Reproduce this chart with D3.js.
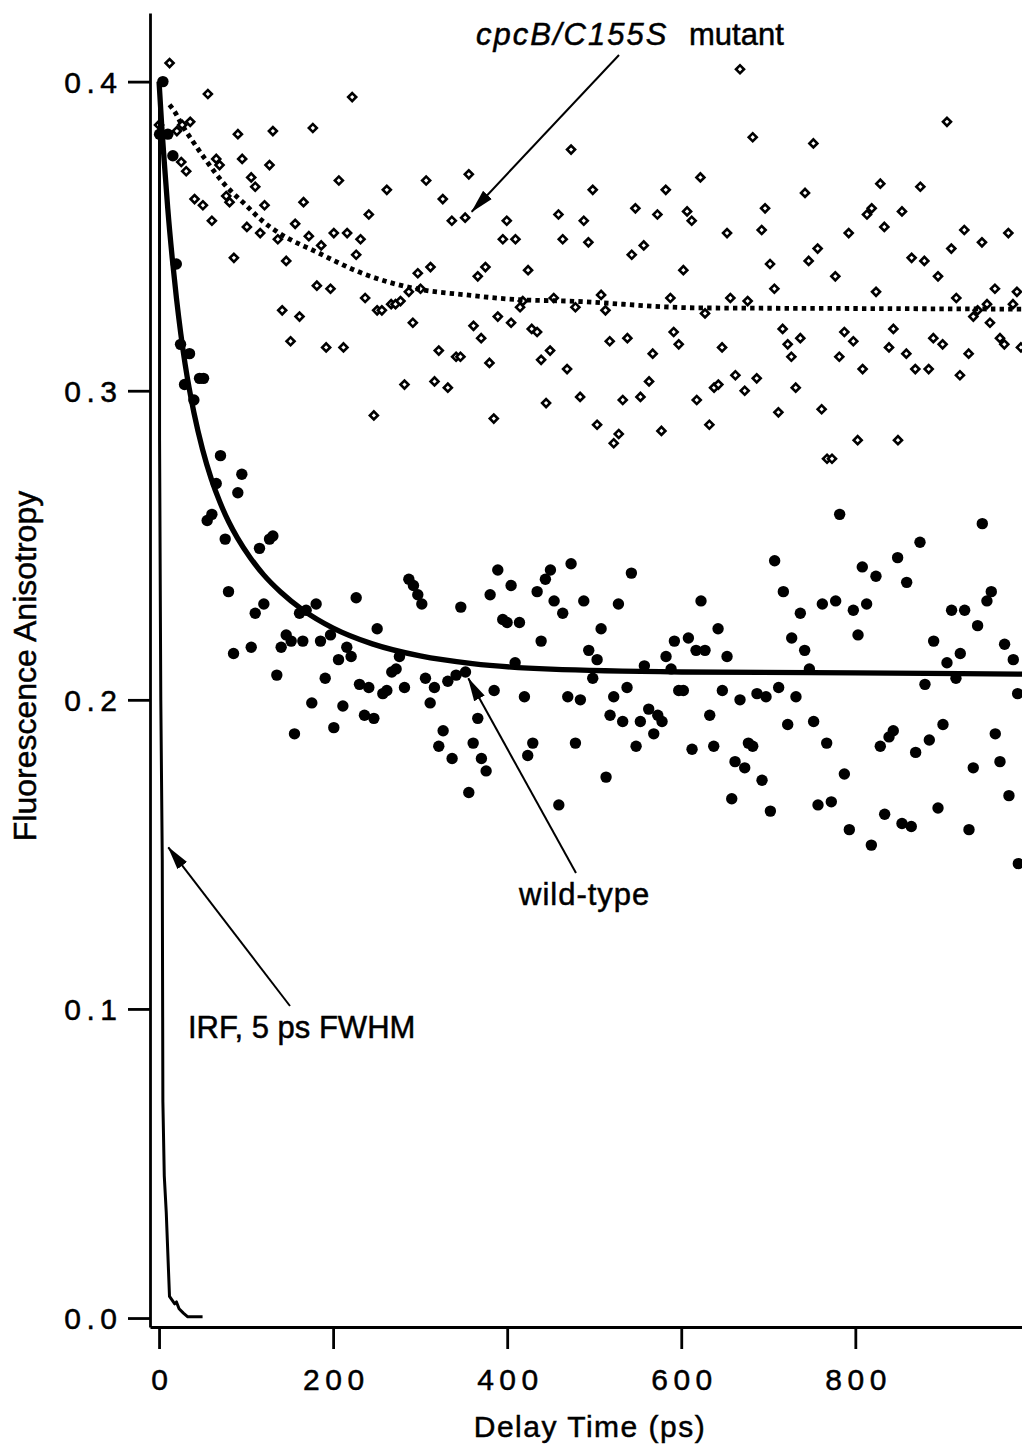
<!DOCTYPE html>
<html>
<head>
<meta charset="utf-8">
<script src="https://cdn.jsdelivr.net/npm/d3@7"></script>
<style>
  body { margin: 0; background: #fff; }
  svg { display: block; }
  text { font-family: "Liberation Sans", Arial, Helvetica, sans-serif; fill: #000; stroke: #000; stroke-width: 0.5px; }
</style>
</head>
<body>
<div id="chart"></div>
<script>
// delay time (ps), anisotropy
const wildTypePoints = [
  [4.4,0.400],[0.6,0.383],[10.1,0.383],[15.9,0.376],[19.8,0.341],[24.7,0.315],[35,0.312],[29.3,0.302],[40,0.297],[46.5,0.304],[51.1,0.304],
  [70.6,0.279],[65.7,0.270],[95.1,0.273],[90.5,0.267],[60.7,0.260],[55.3,0.258],[76,0.252],[115.4,0.249],[126.9,0.252],[130.8,0.253],
  [79.8,0.235],[120.4,0.231],[110.5,0.228],[180.5,0.231],[161.4,0.228],[169,0.229],[226.5,0.233],[287,0.239],[292.3,0.237],[297.3,0.234],
  [301.9,0.231],[346.7,0.230],[389.2,0.242],[404.5,0.237],[380.4,0.234],[394.9,0.226],[399.9,0.225],[414.1,0.225],[439,0.219],[434.4,0.235],
  [443.9,0.239],[449.7,0.242],[453.9,0.232],[250.6,0.223],[85.6,0.215],[105.9,0.217],[146.1,0.221],[151.8,0.219],[140.3,0.217],[165.2,0.219],
  [185.5,0.219],[197,0.221],[215.7,0.217],[220.7,0.214],[206.2,0.213],[276.2,0.214],[135.3,0.208],[190.9,0.207],[230.3,0.205],[241,0.204],
  [257.1,0.202],[261.7,0.203],[267.4,0.209],[272.4,0.210],[282,0.204],[306.1,0.207],[316.4,0.204],[331.8,0.206],[341.3,0.208],[352.1,0.209],
  [311.5,0.199],[409.1,0.212],[385,0.203],[419.8,0.201],[175.5,0.199],[211.2,0.198],[236,0.195],[246.8,0.194],[200.8,0.191],[155.6,0.189],
  [326.4,0.190],[321.4,0.185],[336.7,0.181],[366.2,0.194],[360.9,0.186],[370.4,0.181],[375.8,0.177],[355.9,0.170],[429.4,0.186],[423.6,0.182],
  [459.3,0.166],
  [463.8,0.228],[473.4,0.244],[469.6,0.201],[484.1,0.200],[478.4,0.186],[488,0.232],[493.7,0.216],[503.3,0.213],[507.9,0.223],[498.3,0.207],
  [527.8,0.231],[542.7,0.241],[513.6,0.175],[518.2,0.195],[522.4,0.201],[532.7,0.193],[537.7,0.204],[548.1,0.185],[553,0.193],[557.6,0.211],
  [562.6,0.197],[568.4,0.189],[573,0.195],[577.9,0.193],[582.5,0.214],[588.3,0.210],[592.1,0.219],[597.1,0.203],[602.4,0.203],[608.2,0.220],
  [617,0.216],[627.3,0.216],[622.7,0.232],[612.4,0.184],[632.7,0.195],[637.3,0.185],[642.3,0.223],[647.2,0.203],[652.6,0.214],[667.5,0.200],
  [658,0.168],[661.8,0.180],[672.9,0.178],[677.1,0.186],[682.1,0.185],[692.8,0.174],[702.4,0.164],[687,0.202],[697.4,0.201],[707.3,0.245],
  [711.9,0.204],[717.3,0.235],[722.3,0.192],[726.9,0.220],[731.8,0.201],[736.8,0.228],[741.8,0.216],[747.2,0.210],[752.1,0.193],[757.1,0.166],
  [762.1,0.231],[767.1,0.186],[772.4,0.167],[777.4,0.232],[782,0.260],[787.4,0.176],[793.1,0.158],[797.7,0.229],[803.1,0.221],[808,0.243],
  [813,0.231],[823.7,0.240],[818.4,0.153],[828.7,0.185],[833.7,0.163],[838.7,0.188],[843.6,0.190],[848.6,0.246],[853.6,0.160],[859,0.238],
  [864.3,0.159],[869.3,0.183],[874.3,0.251],[880,0.205],[885,0.187],[890,0.219],[895,0.165],[900.7,0.192],[905.3,0.212],[910.6,0.229],
  [915.6,0.207],[920.6,0.215],[925.6,0.229],[930.6,0.158],[935.5,0.178],[940.5,0.224],[945.9,0.257],[951.2,0.232],[956.2,0.235],[960.8,0.189],
  [966.2,0.180],[971.5,0.218],[976.5,0.169],[981.5,0.213],[986.5,0.202],[987.3,0.147]
];

const mutantPoints = [
  [12.1,0.406],[56.1,0.396],[221.9,0.395],[0,0.386],[20.5,0.384],[26.6,0.386],[35.8,0.387],[90.6,0.383],[130.8,0.384],[176.7,0.385],
  [25.5,0.374],[31.2,0.371],[65.7,0.375],[69.5,0.373],[95.5,0.375],[126.9,0.373],[105.9,0.369],[110.5,0.366],[40.8,0.362],[50.4,0.360],
  [77.2,0.363],[81,0.361],[121.2,0.360],[60.7,0.355],[166,0.361],[206.6,0.368],[261.7,0.365],[306.9,0.368],[355.9,0.370],[326,0.362],
  [241,0.357],[336.4,0.355],[351.7,0.356],[86,0.343],[100.9,0.353],[116.2,0.351],[136.5,0.349],[146.1,0.342],[156.4,0.354],[172.1,0.350],
  [186.3,0.347],[200.8,0.351],[216.1,0.351],[231.5,0.349],[226.5,0.344],[311.9,0.340],[297.3,0.338],[375,0.340],[366.2,0.337],[181.3,0.334],
  [197,0.333],[236.8,0.330],[250.6,0.326],[256,0.326],[266.7,0.328],[271.7,0.328],[277.4,0.329],[287,0.332],[300.4,0.333],[291.6,0.322],
  [389.2,0.324],[361.3,0.321],[370.1,0.317],[141.5,0.326],[161.4,0.324],[151.1,0.316],[192,0.314],[211.9,0.314],[321.4,0.313],[341.3,0.311],
  [346.3,0.311],[379.6,0.309],[282,0.302],[316.5,0.303],[331.8,0.301],[246.8,0.292],[384.6,0.291],
  [667.5,0.404],[682.1,0.382],[751.8,0.380],[905.3,0.387],[473.4,0.378],[622,0.369],[498.3,0.365],[582.2,0.365],[828.7,0.367],[874.7,0.366],
  [742.2,0.364],[399.5,0.355],[395,0.349],[409.5,0.349],[458.9,0.357],[488,0.355],[463.8,0.349],[493.3,0.348],[547.3,0.359],[572.6,0.357],
  [606.7,0.358],[612,0.355],[696.3,0.359],[692.4,0.352],[652.6,0.351],[818.8,0.359],[813.4,0.357],[853.6,0.358],[833.3,0.353],[792.4,0.351],
  [925.2,0.352],[975.8,0.351],[945.5,0.348],[910.3,0.346],[543.1,0.344],[556.9,0.347],[424,0.339],[602.4,0.339],[756.7,0.346],[746.4,0.342],
  [702,0.341],[777,0.337],[864.7,0.343],[879.3,0.342],[895,0.337],[707,0.333],[823.8,0.332],[960.4,0.333],[985.7,0.332],[916,0.330],
  [981.1,0.328],[951.3,0.328],[935.6,0.324],[940.5,0.326],[954.7,0.322],[966.2,0.317],[971.2,0.315],[990.3,0.314],[404.5,0.322],[414.8,0.327],
  [417.9,0.329],[453.5,0.330],[478.4,0.327],[507.9,0.331],[512.9,0.326],[587.5,0.330],[627.3,0.325],[656.4,0.330],[676.3,0.329],[428.2,0.320],
  [434.4,0.319],[449.3,0.313],[439,0.310],[468.8,0.307],[517.8,0.316],[538.1,0.317],[591.3,0.319],[597.1,0.315],[567.2,0.312],[646.9,0.314],
  [716.5,0.320],[722.3,0.315],[736.8,0.317],[726.5,0.311],[787.4,0.319],[797.7,0.316],[781.6,0.311],[808.4,0.307],[843.7,0.320],[838.7,0.314],
  [858.6,0.312],[889.6,0.317],[900.3,0.315],[868.9,0.307],[884.3,0.307],[930.2,0.312],[920.2,0.305],[444.7,0.296],[483.8,0.298],[503.3,0.289],
  [522.4,0.283],[528.2,0.286],[532.8,0.297],[553.1,0.298],[563,0.303],[577.2,0.287],[617.8,0.297],[632.3,0.289],[637.7,0.301],[642.6,0.302],
  [662.2,0.305],[672.9,0.300],[686.7,0.304],[711.6,0.293],[731.5,0.301],[761.3,0.294],[767.5,0.278],[773.2,0.278],[802.7,0.284],[849,0.284]
];

// fitted curves
const wildTypeFit = [
  [0,0.400],[3,0.386],[6,0.374],[10,0.359],[15,0.3433],[20,0.3299],[25,0.3184],[30,0.3085],[40,0.293],[50,0.281],
  [60,0.2715],[70,0.2639],[80,0.2576],[90,0.2524],[105,0.2459],[120,0.2405],[140,0.2348],[165,0.2291],[200,0.2232],
  [245,0.2181],[300,0.2142],[360,0.2117],[450,0.2099],[600,0.2090],[800,0.2087],[995,0.2083]
];
const mutantFit = [
  [12,0.3925],[19,0.3898],[24.7,0.3868],[38,0.381],[52,0.3753],[74.5,0.367],[101,0.3597],[118,0.3551],[138,0.351],
  [180,0.345],[238,0.3375],[295,0.333],[353,0.331],[410,0.3295],[470,0.329],[620,0.3268],[800,0.3266],[995,0.3264]
];
const irfTrace = [
  [0.5,0.400],[0.6,0.284],[2,0.200],[3.7,0.148],[4.4,0.070],[6,0.046],[8.3,0.034],[12,0.007],[15,0.0058],
  [18,0.0046],[20,0.0052],[23,0.003],[28,0.0016],[33,0.0004],[50,0.0004]
];

const xTicks = [0, 200, 400, 600, 800];
const yTicks = [0.0, 0.1, 0.2, 0.3, 0.4];

const width = 1022, height = 1447;

const svg = d3.select("#chart").append("svg")
    .attr("width", width)
    .attr("height", height);

svg.append("rect").attr("width", width).attr("height", height).attr("fill", "#fff");

const x = d3.scaleLinear().domain([-10.4, 991.5]).range([150, 1022]);
const y = d3.scaleLinear().domain([-0.0029, 0.4222]).range([1327, 13]);

const defs = svg.append("defs");
defs.append("marker")
    .attr("id", "head")
    .attr("viewBox", "0 -7 24 14")
    .attr("markerUnits", "userSpaceOnUse")
    .attr("markerWidth", 24)
    .attr("markerHeight", 14)
    .attr("refX", 23)
    .attr("refY", 0)
    .attr("orient", "auto")
  .append("path")
    .attr("d", "M0,-6L24,0L0,6Z")
    .attr("fill", "#000");

// mutant (open diamonds)
const diamond = d3.symbol().type(d3.symbolSquare).size(32);
svg.append("g").selectAll("path")
    .data(mutantPoints)
    .join("path")
    .attr("d", diamond)
    .attr("transform", d => `translate(${x(d[0])},${y(d[1])}) rotate(45)`)
    .attr("fill", "#fff")
    .attr("stroke", "#000")
    .attr("stroke-width", 2.6);

const line = d3.line().x(d => x(d[0])).y(d => y(d[1])).curve(d3.curveMonotoneX);

svg.append("path")
    .datum(mutantFit)
    .attr("d", line)
    .attr("fill", "none")
    .attr("stroke", "#000")
    .attr("stroke-width", 4.8)
    .attr("stroke-dasharray", "4.4,4.2");

// wild-type (filled dots)
svg.append("g").selectAll("circle")
    .data(wildTypePoints)
    .join("circle")
    .attr("cx", d => x(d[0]))
    .attr("cy", d => y(d[1]))
    .attr("r", 5.7)
    .attr("fill", "#000");

svg.append("path")
    .datum(wildTypeFit)
    .attr("d", line)
    .attr("fill", "none")
    .attr("stroke", "#000")
    .attr("stroke-width", 5.3);

svg.append("path")
    .datum(irfTrace)
    .attr("d", d3.line().x(d => x(d[0])).y(d => y(d[1])))
    .attr("fill", "none")
    .attr("stroke", "#000")
    .attr("stroke-width", 3)
    .attr("stroke-linejoin", "round");

// axes
const xAxis = svg.append("g")
    .attr("transform", "translate(0,1327)")
    .call(d3.axisBottom(x).tickValues(xTicks).tickSize(22).tickSizeOuter(0).tickFormat(d3.format("d")));
const yAxis = svg.append("g")
    .attr("transform", "translate(150,0)")
    .call(d3.axisLeft(y).tickValues(yTicks).tickSize(22).tickSizeOuter(0).tickFormat(d3.format(".1f")));

[xAxis, yAxis].forEach(g => {
  g.select(".domain").attr("stroke", "#000").attr("stroke-width", 2.8);
  g.selectAll(".tick line").attr("stroke", "#000").attr("stroke-width", 2.8);
  g.selectAll(".tick text")
      .attr("fill", "#000")
      .style("font-family", "'Liberation Sans', Arial, sans-serif")
      .style("font-size", "30px")
      .style("letter-spacing", "5.5px");
});
xAxis.selectAll(".tick text").attr("y", 63).attr("dy", 0).attr("dx", 2.75);
yAxis.selectAll(".tick text").attr("x", -27.5).attr("dy", "0.36em");

// axis titles
svg.append("text")
    .attr("x", 590).attr("y", 1437)
    .attr("text-anchor", "middle")
    .style("font-size", "30px")
    .style("letter-spacing", "1.5px")
    .text("Delay Time (ps)");

svg.append("text")
    .attr("transform", "translate(36,666) rotate(-90)")
    .attr("text-anchor", "middle")
    .style("font-size", "32px")
    .text("Fluorescence Anisotropy");

// annotations
const mutantLabel = svg.append("text")
    .attr("x", 476).attr("y", 45)
    .style("font-size", "31px");
mutantLabel.append("tspan").style("font-style", "italic").style("letter-spacing", "2px").text("cpcB/C155S");
mutantLabel.append("tspan").attr("x", 689).text("mutant");

svg.append("text")
    .attr("x", 519).attr("y", 905)
    .style("font-size", "31px")
    .style("letter-spacing", "1px")
    .text("wild-type");

svg.append("text")
    .attr("x", 188).attr("y", 1038)
    .style("font-size", "31px")
    .text("IRF, 5 ps FWHM");

const arrows = [
  [619, 55, 471.7, 211.7],
  [576, 873, 468.3, 678.3],
  [290, 1006, 168.3, 847.3]
];
svg.append("g").selectAll("line")
    .data(arrows)
    .join("line")
    .attr("x1", d => d[0]).attr("y1", d => d[1])
    .attr("x2", d => d[2]).attr("y2", d => d[3])
    .attr("stroke", "#000")
    .attr("stroke-width", 2)
    .attr("marker-end", "url(#head)");
</script>
</body>
</html>
